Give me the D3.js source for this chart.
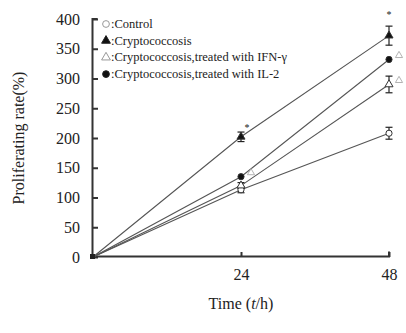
<!DOCTYPE html>
<html>
<head>
<meta charset="utf-8">
<script src="https://cdn.jsdelivr.net/npm/d3@7"></script>
<style>
  body { margin: 0; background: #fff; }
  text { font-family: "Liberation Serif", "DejaVu Serif", serif; fill: #222; }
</style>
</head>
<body>
<div id="chart"></div>
<script>
// Data
const times = [0, 24, 48];
const seriesNames = [
    'Control',
    'Cryptococcosis',
    'Cryptococcosis,treated with IFN-\u03b3',
    'Cryptococcosis,treated with IL-2'
];
const controlValues = [0, 113, 208];
const cryptoValues = [0, 202, 372];
const ifnValues = [0, 120, 290];
const il2Values = [0, 135, 332];
const controlErrors = [0, 5, 10];
const cryptoErrors = [0, 8, 16];
const ifnErrors = [0, 5, 14];
const il2Errors = [0, 0, 0];
const yTicks = [0, 50, 100, 150, 200, 250, 300, 350, 400];
const xTicks = [24, 48];
// significance marks
const starMarks = [[24, 202, '*'], [48, 372, '*']];
const triMarks = [[48, 332], [48, 290], [24, 135]];

const width = 406, height = 333;
const margin = { top: 19, right: 17, bottom: 76, left: 93 };

const svg = d3.select('#chart').append('svg')
    .attr('width', width)
    .attr('height', height);

const x = d3.scaleLinear().domain([0, 48]).range([margin.left, width - margin.right]);
const y = d3.scaleLinear().domain([0, 400]).range([height - margin.bottom, margin.top]);

const series = [
    { name: seriesNames[0], values: controlValues, errors: controlErrors, shape: 'circle', filled: false },
    { name: seriesNames[1], values: cryptoValues, errors: cryptoErrors, shape: 'triangle', filled: true },
    { name: seriesNames[2], values: ifnValues, errors: ifnErrors, shape: 'triangle', filled: false },
    { name: seriesNames[3], values: il2Values, errors: il2Errors, shape: 'circle', filled: true }
];

// Axes
const yAxis = d3.axisLeft(y).tickValues(yTicks).tickSize(-5).tickPadding(13);
const xAxis = d3.axisBottom(x).tickValues(xTicks).tickSize(-5).tickPadding(12);

const gy = svg.append('g')
    .attr('transform', `translate(${margin.left},0)`)
    .call(yAxis);
const gx = svg.append('g')
    .attr('transform', `translate(0,${y(0)})`)
    .call(xAxis);

[gx, gy].forEach(g => {
    g.select('.domain').attr('stroke', '#333').attr('stroke-width', 2);
    g.selectAll('.tick line').attr('stroke', '#333').attr('stroke-width', 2);
    g.selectAll('.tick text')
        .style('font-family', '"Liberation Serif", serif')
        .style('font-size', '16px')
        .attr('fill', '#333');
});
gy.select('.domain').attr('d', `M-0.5,${y(0)}V${y(400)}h5`);
gx.select('.domain').attr('d', `M${x(0)},-0.5H${x(48)}v-5`);

// Axis titles
const xt = svg.append('text')
    .attr('x', x(24))
    .attr('y', 309)
    .attr('text-anchor', 'middle')
    .style('font-size', '16px');
xt.append('tspan').text('Time (');
xt.append('tspan').style('font-style', 'italic').text('t');
xt.append('tspan').text('/h)');

svg.append('text')
    .attr('transform', `translate(24,${(y(0) + y(400)) / 2}) rotate(-90)`)
    .attr('text-anchor', 'middle')
    .style('font-size', '16px')
    .text('Proliferating rate(%)');

// Lines
const line = d3.line()
    .x((d, i) => x(times[i]))
    .y(d => y(d));

series.forEach(s => {
    svg.append('path')
        .datum(s.values)
        .attr('fill', 'none')
        .attr('stroke', '#555')
        .attr('stroke-width', 1.1)
        .attr('d', line);
});

// Error bars
series.forEach(s => {
    s.values.forEach((v, i) => {
        const e = s.errors[i];
        if (!e) return;
        const cx = x(times[i]);
        const g = svg.append('g').attr('stroke', '#222').attr('stroke-width', 1.2);
        g.append('line').attr('x1', cx).attr('x2', cx).attr('y1', y(v - e)).attr('y2', y(v + e));
        g.append('line').attr('x1', cx - 3.5).attr('x2', cx + 3.5).attr('y1', y(v - e)).attr('y2', y(v - e));
        g.append('line').attr('x1', cx - 3.5).attr('x2', cx + 3.5).attr('y1', y(v + e)).attr('y2', y(v + e));
    });
});

// Markers
const sym = (shape, k = 1) => d3.symbol()
    .type(shape === 'circle' ? d3.symbolCircle : d3.symbolTriangle)
    .size((shape === 'circle' ? 30 : 28) * k);

series.forEach(s => {
    svg.selectAll(null)
        .data(s.values.slice(1))
        .enter()
        .append('path')
        .attr('d', sym(s.shape)())
        .attr('transform', (d, i) => `translate(${x(times[i + 1])},${y(d)})`)
        .attr('fill', s.filled ? '#111' : '#fff')
        .attr('stroke', '#333')
        .attr('stroke-width', 1);
});
// origin marker
svg.append('rect')
    .attr('x', x(0) - 3).attr('y', y(0) - 3)
    .attr('width', 5).attr('height', 5)
    .attr('fill', '#222');

// Significance marks
starMarks.forEach(([t, v, lab]) => {
    const dx = t === 24 ? 6 : 0;
    const dy = t === 24 ? -12 : -24;
    svg.append('text')
        .attr('x', x(t) + dx)
        .attr('y', y(v) + dy + 6)
        .attr('text-anchor', 'middle')
        .style('font-size', '10px')
        .attr('fill', '#111')
        .text(lab);
});
triMarks.forEach(([t, v]) => {
    svg.append('path')
        .attr('d', d3.symbol().type(d3.symbolTriangle).size(22)())
        .attr('transform', `translate(${x(t) + 10},${y(v) - 4})`)
        .attr('fill', 'none')
        .attr('stroke', '#aaa')
        .attr('stroke-width', 0.9);
});

// Legend
const legend = svg.append('g').attr('transform', 'translate(106,24)');
series.forEach((s, i) => {
    const row = legend.append('g').attr('transform', `translate(0,${i * 16.7})`);
    row.append('path')
        .attr('d', sym(s.shape, 1.2)())
        .attr('fill', s.filled ? '#111' : '#fff')
        .attr('stroke', i === 0 || i === 2 ? '#999' : '#222')
        .attr('stroke-width', 1);
    row.append('text')
        .attr('x', 5)
        .attr('y', 4)
        .style('font-size', '12.5px')
        .text(':' + s.name);
});
</script>
</body>
</html>
